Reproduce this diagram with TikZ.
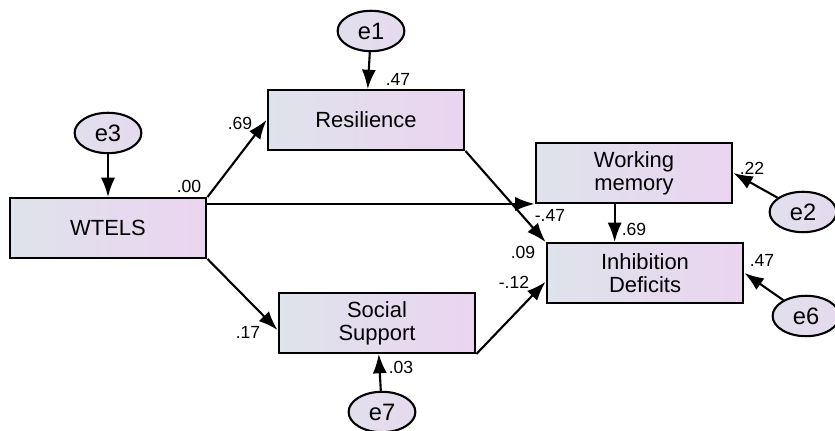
\documentclass[tikz,border=0pt]{standalone}
\usepackage{fontspec}
\setmainfont{Liberation Sans}
\usetikzlibrary{arrows.meta,shapes.geometric}
\definecolor{boxleft}{HTML}{DFE3EB}
\definecolor{boxright}{HTML}{EBD4F0}
\definecolor{errfill}{HTML}{E6DAEE}
\tikzset{
  var/.style={draw,line width=1.2pt,minimum width=112pt,minimum height=34pt,
    left color=boxleft,right color=boxright,font=\fontsize{12.5}{13}\selectfont,
    align=center,inner sep=0pt},
  err/.style={draw,ellipse,line width=1.2pt,minimum width=38pt,minimum height=23pt,
    left color=boxleft!60!errfill,right color=errfill,inner sep=0pt,
    font=\fontsize{13.5}{14}\selectfont},
  path/.style={line width=1.2pt,-{Latex[length=11pt,width=8pt]}},
  coef/.style={font=\fontsize{10}{11}\selectfont,inner sep=0pt}
}
\begin{document}
\begin{tikzpicture}[x=0.02cm,y=-0.02cm]
  \useasboundingbox (0,0) rectangle (835,431);

  \node[var] (wtels) at (108,228) {WTELS};
  \node[var] (res) at (366,120) {Resilience};
  \node[var] (wm) at (634,173) {Working\\memory};
  \node[var] (inh) at (645,273) {Inhibition\\Deficits};
  \node[var] (soc) at (377,323) {Social\\Support};

  \node[err] (e3) at (108,133) {e3};
  \node[err] (e1) at (371,31) {e1};
  \node[err] (e2) at (803,212) {e2};
  \node[err] (e6) at (806,316) {e6};
  \node[err] (e7) at (382,412) {e7};

  \draw[path] (e3) -- (wtels);
  \draw[path] (e1) -- (res);
  \draw[path] (e7) -- (soc);
  \draw[path] (e2) -- (wm.east);
  \draw[path] (e6) -- (inh.east);

  \draw[path] (wtels.north east) -- (res.west);
  \draw[path] (wtels.south east) -- ([yshift=-4pt]soc.west);
  \draw[path] (wtels.east |- wm.south west) -- (wm.south west);
  \draw[path] (res.south east) -- (inh.north west);
  \draw[path] ([xshift=-11pt]wm.south) -- ([xshift=-11pt]wm.south |- inh.north);
  \draw[path] (soc.south east) -- ([yshift=-5pt]inh.west);

  \node[coef] (r2res) at (398,79) {.47};
  \node[coef] (r2wtels) at (189,186) {.00};
  \node[coef] (bres) at (240,123) {.69};
  \node[coef] (bsoc) at (248,332) {.17};
  \node[coef] (r2soc) at (401,367) {.03};
  \node[coef] (bsocinh) at (514,282) {-.12};
  \node[coef] (r2inh) at (523,252) {.09};
  \node[coef] (bresinh) at (550,215) {-.47};
  \node[coef] (bwminh) at (634,229) {.69};
  \node[coef] (r2wm) at (752,168) {.22};
  \node[coef] (r2e6) at (762,260) {.47};
\end{tikzpicture}
\end{document}
